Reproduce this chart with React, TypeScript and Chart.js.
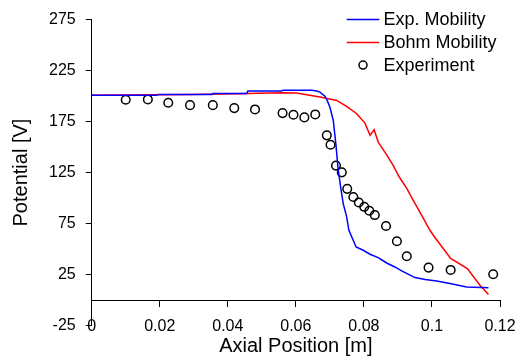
import React, { useEffect, useRef } from "react";
import { Chart, registerables } from "chart.js";

Chart.register(...registerables);

// Experiment (circles)
const expX = [0.0100, 0.0165, 0.0225, 0.0289, 0.0356, 0.0419, 0.0480, 0.0561, 0.0593, 0.0625, 0.0657, 0.0691, 0.0702, 0.0718, 0.0735, 0.0751, 0.0769, 0.0785, 0.0801, 0.0816, 0.0832, 0.0865, 0.0897, 0.0926, 0.0990, 0.1055, 0.1180];
const expY = [196.4, 196.7, 193.5, 191.1, 191.1, 188.2, 186.9, 183.3, 181.7, 179.1, 182.0, 161.5, 152.3, 131.8, 125.2, 109.0, 101.0, 95.6, 91.4, 87.5, 83.3, 72.6, 57.6, 42.9, 31.8, 29.5, 25.3];

// Exp. Mobility (blue line)
const blueX = [0, 0.0191, 0.0195, 0.0353, 0.0356, 0.0456, 0.0459, 0.0558, 0.0562, 0.0647, 0.0661, 0.0671, 0.0679, 0.0686, 0.0692, 0.0700, 0.0710, 0.0718, 0.0724, 0.0731, 0.0739, 0.0749, 0.0756, 0.0777, 0.0798, 0.0818, 0.0842, 0.0867, 0.0891, 0.0911, 0.0950, 0.0980, 0.1014, 0.1053, 0.1102, 0.1166];
const blueY = [200.9, 200.9, 201.6, 201.6, 202.6, 202.6, 204.9, 204.9, 205.8, 205.8, 204.9, 203.9, 201.6, 199.7, 195.8, 189.2, 176.2, 151.7, 129.1, 112.5, 94.8, 82.1, 68.4, 52.0, 48.8, 44.9, 41.6, 36.3, 32.4, 28.5, 22.0, 20.1, 18.7, 16.2, 12.8, 11.9];

// Bohm Mobility (red line)
const redX = [0, 0.0289, 0.0426, 0.0558, 0.0602, 0.0632, 0.0671, 0.0720, 0.0749, 0.0779, 0.0803, 0.0818, 0.0830, 0.0842, 0.0867, 0.0886, 0.0904, 0.0926, 0.0945, 0.0970, 0.0994, 0.1004, 0.1055, 0.1104, 0.1141, 0.1166];
const redY = [200.9, 201.6, 202.3, 203.3, 202.9, 201.3, 199.0, 195.7, 189.9, 182.7, 173.5, 161.5, 167.0, 154.9, 142.4, 132.1, 120.6, 109.5, 97.8, 83.1, 68.4, 63.5, 40.7, 30.9, 14.5, 5.4];

const xTicks = [0, 0.02, 0.04, 0.06, 0.08, 0.1, 0.12];
const yTicks = [-25, 25, 75, 125, 175, 225, 275];
const seriesNames = ["Exp. Mobility", "Bohm Mobility", "Experiment"];
const seriesColors = ["#0000ff", "#ff0000", "#000000"];
const xTitle = "Axial Position [m]";
const yTitle = "Potential [V]";

const FONT = "'Liberation Sans', Arial, Helvetica, sans-serif";

const zip = (xs: number[], ys: number[]) => xs.map((x, i) => ({ x, y: ys[i] }));

const legendPlugin = {
  id: "insideLegend",
  afterDraw(chart: any) {
    const ctx = chart.ctx;
    const right = chart.chartArea.right;
    const top = chart.chartArea.top;
    const lx0 = right - 153.3;
    const lx1 = right - 120.7;
    const tx = right - 116.5;
    const rows = [top - 0.2, top + 22.8, top + 45.5];
    ctx.save();
    ctx.font = `18px ${FONT}`;
    ctx.textBaseline = "middle";
    ctx.textAlign = "left";
    seriesNames.forEach((name, i) => {
      const y = rows[i];
      if (i < 2) {
        ctx.strokeStyle = seriesColors[i];
        ctx.lineWidth = 1.5;
        ctx.beginPath();
        ctx.moveTo(lx0, y);
        ctx.lineTo(lx1, y);
        ctx.stroke();
      } else {
        ctx.strokeStyle = "#000";
        ctx.lineWidth = 1.5;
        ctx.beginPath();
        ctx.arc((lx0 + lx1) / 2, y, 4, 0, Math.PI * 2);
        ctx.stroke();
      }
      ctx.fillStyle = "#000";
      ctx.fillText(name, tx, y + 0.5);
    });
    ctx.restore();
  },
};

export default function App() {
  const canvasRef = useRef<HTMLCanvasElement | null>(null);

  useEffect(() => {
    document.body.style.margin = "0";
    const canvas = canvasRef.current;
    if (!canvas) return;
    const chart = new Chart(canvas, {
      type: "scatter",
      data: {
        datasets: [
          {
            label: seriesNames[0],
            data: zip(blueX, blueY),
            showLine: true,
            borderColor: seriesColors[0],
            backgroundColor: seriesColors[0],
            borderWidth: 1.5,
            pointRadius: 0,
            tension: 0,
          },
          {
            label: seriesNames[1],
            data: zip(redX, redY),
            showLine: true,
            borderColor: seriesColors[1],
            backgroundColor: seriesColors[1],
            borderWidth: 1.5,
            pointRadius: 0,
            tension: 0,
          },
          {
            label: seriesNames[2],
            data: zip(expX, expY),
            showLine: false,
            borderColor: seriesColors[2],
            backgroundColor: "rgba(0,0,0,0)",
            pointBorderWidth: 1.5,
            pointRadius: 4.3,
            pointStyle: "circle",
          },
        ],
      },
      options: {
        animation: false,
        responsive: true,
        maintainAspectRatio: false,
        font: { family: FONT },
        color: "#000",
        layout: { padding: { left: 0, right: 17, top: 19.5, bottom: 34.5 } },
        plugins: {
          legend: { display: false },
          tooltip: { enabled: false },
        },
        scales: {
          x: {
            type: "linear",
            position: { y: 0 } as any,
            min: 0,
            max: 0.12,
            afterBuildTicks: (s: any) => {
              s.ticks = xTicks.map((v) => ({ value: v }));
            },
            afterFit: (s: any) => {
              s.paddingLeft = 0;
              s.paddingRight = 0;
            },
            ticks: {
              color: "#000",
              font: { size: 16, family: FONT },
              padding: 11,
              maxRotation: 0,
              autoSkip: false,
              callback: (v: any) => String(parseFloat(Number(v).toFixed(3))),
            },
            grid: {
              drawOnChartArea: false,
              drawTicks: true,
              tickLength: 6,
              color: "#000",
              lineWidth: 1,
            },
            border: { display: true, color: "#000", width: 1 },
            title: {
              display: true,
              text: xTitle,
              color: "#000",
              font: { size: 20, family: FONT },
              padding: { top: -13, bottom: 0 },
            },
          },
          y: {
            type: "linear",
            position: "left",
            min: -25,
            max: 275,
            afterBuildTicks: (s: any) => {
              s.ticks = yTicks.map((v) => ({ value: v }));
            },
            ticks: {
              color: "#000",
              font: { size: 16, family: FONT },
              padding: 10,
              autoSkip: false,
            },
            grid: {
              drawOnChartArea: false,
              drawTicks: true,
              tickLength: 6,
              color: "#000",
              lineWidth: 1,
            },
            border: { display: true, color: "#000", width: 1 },
            title: {
              display: true,
              text: yTitle,
              color: "#000",
              font: { size: 20, family: FONT },
              padding: { top: 9, bottom: 6 },
            },
          },
        },
      },
      plugins: [legendPlugin],
    });
    return () => chart.destroy();
  }, []);

  return (
    <div style={{ width: 517, height: 360, position: "relative", background: "#fff" }}>
      <canvas ref={canvasRef} />
    </div>
  );
}
